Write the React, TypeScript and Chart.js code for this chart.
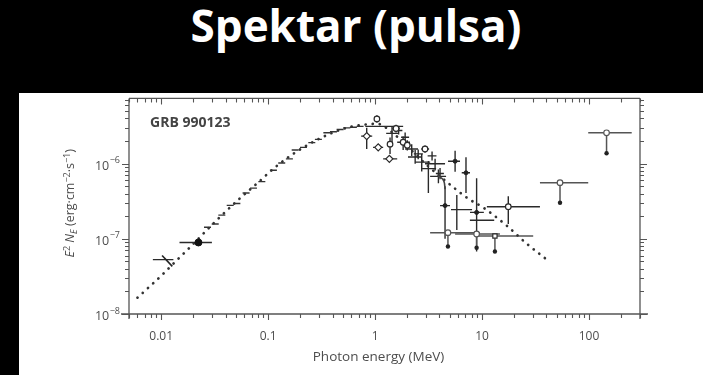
import React, { useEffect, useRef } from 'react';
import { Chart, registerables } from 'chart.js';

Chart.register(...registerables);

// ---------- texts ----------
const SLIDE_TITLE = 'Spektar (pulsa)';
const GRB_LABEL = 'GRB 990123';
const X_TITLE = 'Photon energy (MeV)';

// ---------- axes ----------
const xRange = [0.005, 300];
const yRange = [1e-8, 7.4e-6];
const xMajorTicks = [0.01, 0.1, 1, 10, 100];
const xTickLabels = ['0.01', '0.1', '1', '10', '100'];
const yMajorTicks = [1e-8, 1e-7, 1e-6];
const yTickExponents = ['−8', '−7', '−6'];

// ---------- model (dotted Band fit) ----------
const modelE = [0.006, 0.008, 0.0105, 0.014, 0.0184, 0.024, 0.0334, 0.055, 0.078, 0.12, 0.185, 0.31, 0.54, 0.78, 1.05, 1.4, 2.0, 3.0, 5.0, 7.5, 10.3, 17, 26, 39];
const modelF = [1.65e-8, 2.4e-8, 3.45e-8, 5.2e-8, 7.6e-8, 1.12e-7, 1.8e-7, 3.5e-7, 5.4e-7, 9.3e-7, 1.45e-6, 2.2e-6, 3.0e-6, 3.3e-6, 3.4e-6, 2.7e-6, 1.7e-6, 9.8e-7, 5.3e-7, 3.4e-7, 2.6e-7, 1.5e-7, 8.7e-8, 5.5e-8];

// ---------- BATSE-like small points ----------
const batseE = [0.0271, 0.032, 0.0369, 0.0442, 0.051, 0.0622, 0.0729, 0.0873, 0.112, 0.134, 0.158, 0.179, 0.214, 0.256, 0.295, 0.354, 0.408, 0.471, 0.544, 0.627, 0.724];
const batseF = [1.43e-7, 1.58e-7, 2.07e-7, 2.79e-7, 2.96e-7, 4.07e-7, 4.73e-7, 5.78e-7, 8.18e-7, 1.02e-6, 1.16e-6, 1.52e-6, 1.65e-6, 1.91e-6, 2.11e-6, 2.58e-6, 2.66e-6, 2.85e-6, 3.0e-6, 3.05e-6, 3.14e-6];

// rows: [E, F, Elo, Ehi, Flo, Fhi]
const lowBarPts = [[0.0109, 5.3e-8, 0.00836, 0.013, 5.3e-8, 5.3e-8]];
const lowSlopeE = [0.0102, 0.0127];
const lowSlopeF = [6.0e-8, 4.3e-8];
const bigDotPts = [[0.0223, 8.95e-8, 0.01483, 0.0298, 8.95e-8, 8.95e-8]];
const filledPts = [
  [4.51, 2.77e-7, 4.05, 5.02, 1.0e-7, 5.0e-7],
  [5.6, 1.08e-6, 4.81, 6.22, 7.8e-7, 1.49e-6],
  [7.08, 7.57e-7, 6.46, 7.72, 4.07e-7, 1.22e-6],
  [8.9, 2.25e-7, 7.72, 10.4, 6.8e-8, 6.4e-7],
];
const openCirclePts = [
  [1.04, 3.95e-6, 1.04, 1.04, 3.5e-6, 4.4e-6],
  [1.38, 1.82e-6, 1.38, 1.38, 1.35e-6, 2.24e-6],
  [1.83, 1.93e-6, 1.61, 2.12, 1.52e-6, 2.31e-6],
  [1.57, 2.94e-6, 1.45, 1.7, 2.6e-6, 3.3e-6],
  [2.0, 1.76e-6, 1.85, 2.15, 1.5e-6, 2.05e-6],
  [2.93, 1.57e-6, 2.7, 3.2, 1.4e-6, 1.75e-6],
  [17.6, 2.68e-7, 11.1, 34.8, 1.58e-7, 3.7e-7],
];
const diamondPts = [
  [0.835, 2.33e-6, 0.74, 0.94, 1.57e-6, 3.0e-6],
  [1.07, 1.65e-6, 0.957, 1.19, 1.65e-6, 1.65e-6],
  [1.36, 1.16e-6, 1.19, 1.61, 1.16e-6, 1.16e-6],
];
const crossPts = [
  [1.24, 3.14e-6, 0.81, 1.83, 3.14e-6, 3.14e-6],
  [1.44, 2.53e-6, 1.27, 1.64, 1.93e-6, 3.12e-6],
  [1.66, 2.77e-6, 1.52, 1.8, 2.45e-6, 3.1e-6],
  [1.91, 2.25e-6, 1.75, 2.08, 1.95e-6, 2.6e-6],
  [2.2, 1.57e-6, 1.91, 2.52, 1.27e-6, 1.82e-6],
  [2.37, 1.23e-6, 2.03, 2.69, 1.0e-6, 1.52e-6],
  [2.53, 1.35e-6, 2.3, 2.8, 1.15e-6, 1.55e-6],
  [2.73, 1.05e-6, 2.37, 3.27, 7.86e-7, 1.35e-6],
  [3.15, 8.6e-7, 2.75, 3.72, 4.07e-7, 1.09e-6],
  [3.41, 1.27e-6, 3.1, 3.75, 1.1e-6, 1.45e-6],
  [3.64, 1.0e-6, 2.93, 4.51, 8.1e-7, 1.16e-6],
  [3.91, 6.78e-7, 3.27, 4.61, 5.5e-7, 8.35e-7],
  [4.05, 7.4e-7, 3.7, 4.4, 6.2e-7, 8.8e-7],
  [5.81, 2.45e-7, 5.13, 8.07, 1.31e-7, 3.84e-7],
  [10, 1.77e-7, 7.7, 13, 1.77e-7, 1.77e-7],
];
// short curved segment leading into the 4.5 MeV bar
const hookE = [3.9, 4.25, 4.45, 4.51];
const hookF = [6.8e-7, 6.3e-7, 5.5e-7, 4.6e-7];
// upper limits: [E, F, Elo, Ehi, Ftip]
const upperLimitCircles = [
  [4.8, 1.21e-7, 3.27, 9.57, 7.9e-8],
  [8.9, 1.16e-7, 5.6, 14.7, 7.6e-8],
  [53.6, 5.6e-7, 34.8, 98.4, 3.03e-7],
  [146, 2.58e-6, 98.4, 251, 1.38e-6],
];
const upperLimitSquares = [[13.2, 1.09e-7, 8.9, 30.1, 6.8e-8]];

// ---------- style ----------
const FONT = '"Open Sans", "DejaVu Sans", sans-serif';
const INK = '#2a2a2a';
const AXIS = '#555';
const TEXT = '#4d4d4d';

function decadeTicks(min: number, max: number) {
  const out: number[] = [];
  for (let k = Math.floor(Math.log10(min)); k <= Math.ceil(Math.log10(max)); k++) {
    for (let m = 1; m <= 9; m++) {
      const v = m * Math.pow(10, k);
      if (v >= min * 0.999 && v <= max * 1.001) out.push(v);
    }
  }
  return out;
}

const toXY = (rows: number[][]) => rows.map((r) => ({ x: r[0], y: r[1] }));

const decorPlugin = {
  id: 'spectrumDecor',
  beforeDatasetsDraw(chart: any) {
    const { ctx, scales } = chart;
    const x = scales.x, y = scales.y;
    const ca = chart.chartArea;
    ctx.save();
    ctx.beginPath();
    ctx.rect(ca.left, ca.top, ca.right - ca.left, ca.bottom - ca.top);
    ctx.clip();
    chart.data.datasets.forEach((ds: any) => {
      if (ds.errs) {
        ctx.strokeStyle = INK;
        ctx.lineWidth = 1.4;
        ds.errs.forEach((r: number[]) => {
          const px = x.getPixelForValue(r[0]);
          const py = y.getPixelForValue(r[1]);
          ctx.beginPath();
          if (r[2] !== r[3]) {
            ctx.moveTo(x.getPixelForValue(r[2]), py);
            ctx.lineTo(x.getPixelForValue(r[3]), py);
          }
          if (r[4] !== r[5]) {
            ctx.moveTo(px, y.getPixelForValue(r[4]));
            ctx.lineTo(px, y.getPixelForValue(r[5]));
          }
          ctx.stroke();
        });
      }
      if (ds.limits) {
        ds.limits.forEach((r: number[]) => {
          const px = x.getPixelForValue(r[0]);
          const py = y.getPixelForValue(r[1]);
          const pt = y.getPixelForValue(r[4]);
          ctx.strokeStyle = '#555';
          ctx.lineWidth = 1.5;
          ctx.beginPath();
          ctx.moveTo(x.getPixelForValue(r[2]), py);
          ctx.lineTo(x.getPixelForValue(r[3]), py);
          ctx.moveTo(px, py);
          ctx.lineTo(px, pt);
          ctx.stroke();
          ctx.fillStyle = '#222';
          ctx.beginPath();
          ctx.arc(px, pt, 2.2, 0, Math.PI * 2);
          ctx.fill();
        });
      }
    });
    ctx.restore();
  },
  afterDraw(chart: any) {
    const { ctx, scales } = chart;
    const x = scales.x, y = scales.y;
    const { left, right, top, bottom } = chart.chartArea;
    ctx.save();
    ctx.strokeStyle = AXIS;
    ctx.lineWidth = 1.3;
    // frame
    ctx.beginPath();
    ctx.moveTo(left - 8, bottom); ctx.lineTo(right + 8, bottom);
    ctx.moveTo(left, top); ctx.lineTo(right, top);
    ctx.moveTo(left, top); ctx.lineTo(left, bottom + 5);
    ctx.moveTo(right, top); ctx.lineTo(right, bottom + 5);
    ctx.stroke();
    // ticks
    ctx.lineWidth = 1.1;
    ctx.beginPath();
    decadeTicks(xRange[0], xRange[1]).forEach((v) => {
      const major = xMajorTicks.some((m) => Math.abs(m - v) / m < 1e-6);
      const len = major ? 6 : 4;
      const px = Math.round(x.getPixelForValue(v)) + 0.5;
      ctx.moveTo(px, bottom); ctx.lineTo(px, bottom + len);
      ctx.moveTo(px, top); ctx.lineTo(px, top + len);
    });
    decadeTicks(yRange[0], yRange[1]).forEach((v) => {
      const major = yMajorTicks.some((m) => Math.abs(m - v) / m < 1e-6);
      const len = major ? 7 : 4;
      const py = Math.round(y.getPixelForValue(v)) + 0.5;
      ctx.moveTo(left, py); ctx.lineTo(left - len, py);
      ctx.moveTo(right, py); ctx.lineTo(right + len, py);
    });
    ctx.stroke();

    // x tick labels
    ctx.fillStyle = TEXT;
    ctx.font = `12px ${FONT}`;
    ctx.textAlign = 'center';
    ctx.textBaseline = 'middle';
    xMajorTicks.forEach((v, i) => {
      ctx.fillText(xTickLabels[i], x.getPixelForValue(v), bottom + 22.5);
    });
    // y tick labels 10^n
    yMajorTicks.forEach((v, i) => {
      const py = y.getPixelForValue(v);
      ctx.font = `9px ${FONT}`;
      const supW = ctx.measureText(yTickExponents[i]).width;
      ctx.textAlign = 'right';
      ctx.fillText(yTickExponents[i], left - 9, py - 3);
      ctx.font = `12.5px ${FONT}`;
      ctx.fillText('10', left - 9.5 - supW, py + 2.5);
    });

    // x title
    ctx.font = `13.5px ${FONT}`;
    ctx.textAlign = 'center';
    ctx.fillText(X_TITLE, 359.5, 264);

    // GRB label
    ctx.font = `bold 14px ${FONT}`;
    ctx.textAlign = 'left';
    ctx.fillStyle = '#444';
    ctx.fillText(GRB_LABEL, 131, 30);

    // y title (rotated) with super/subscripts
    const parts: [string, string, string][] = [
      ['E', 'italic 12.5px', 'base'],
      ['2', '9px', 'sup'],
      [' ', '12.5px', 'base'],
      ['N', 'italic 12.5px', 'base'],
      ['E', 'italic 9px', 'sub'],
      [' (erg·cm', '12.5px', 'base'],
      ['−2', '9px', 'sup'],
      ['·s', '12.5px', 'base'],
      ['−1', '9px', 'sup'],
      [')', '12.5px', 'base'],
    ];
    let total = 0;
    const widths = parts.map(([t, f]) => {
      ctx.font = `${f} ${FONT}`;
      const w = ctx.measureText(t).width;
      total += w;
      return w;
    });
    ctx.save();
    ctx.translate(50.7, 110.3);
    ctx.rotate(-Math.PI / 2);
    ctx.fillStyle = TEXT;
    ctx.textAlign = 'left';
    ctx.textBaseline = 'alphabetic';
    let cx = -total / 2;
    parts.forEach(([t, f, pos], i) => {
      ctx.font = `${f} ${FONT}`;
      const dy = pos === 'sup' ? -4.5 : pos === 'sub' ? 3 : 0;
      ctx.fillText(t, cx, 4.5 + dy);
      cx += widths[i];
    });
    ctx.restore();
    ctx.restore();
  },
};

function SpectrumChart() {
  const ref = useRef<HTMLCanvasElement | null>(null);
  useEffect(() => {
    if (!ref.current) return;
    const openStyle = { borderColor: INK, backgroundColor: '#fff', borderWidth: 1.2 };
    const chart = new Chart(ref.current, {
      type: 'scatter',
      data: {
        datasets: [
          {
            label: 'model',
            data: modelE.map((e, i) => ({ x: e, y: modelF[i] })),
            showLine: true,
            borderColor: '#333',
            borderWidth: 2.7,
            borderDash: [0.1, 7],
            borderCapStyle: 'round',
            cubicInterpolationMode: 'monotone',
            pointRadius: 0,
            order: 10,
          } as any,
          {
            label: 'batse',
            data: batseE.map((e, i) => ({ x: e, y: batseF[i] })),
            pointStyle: 'line',
            pointRadius: 3.5,
            borderColor: '#333',
            borderWidth: 1.4,
          } as any,
          {
            label: 'lowBar',
            data: toXY(lowBarPts),
            errs: lowBarPts,
            pointRadius: 0,
          } as any,
          {
            label: 'lowSlope',
            data: lowSlopeE.map((e, i) => ({ x: e, y: lowSlopeF[i] })),
            showLine: true,
            borderColor: '#222',
            borderWidth: 1.6,
            pointRadius: 0,
          } as any,
          {
            label: 'hook',
            data: hookE.map((e, i) => ({ x: e, y: hookF[i] })),
            showLine: true,
            cubicInterpolationMode: 'monotone',
            borderColor: '#444',
            borderWidth: 1.6,
            pointRadius: 0,
          } as any,
          {
            label: 'bigDot',
            data: toXY(bigDotPts),
            errs: bigDotPts,
            pointRadius: 3.5,
            backgroundColor: '#111',
            borderColor: '#111',
          } as any,
          {
            label: 'filled',
            data: toXY(filledPts),
            errs: filledPts,
            pointRadius: 2,
            backgroundColor: '#222',
            borderColor: '#222',
          } as any,
          {
            label: 'cross',
            data: toXY(crossPts),
            errs: crossPts,
            pointRadius: 0,
          } as any,
          {
            label: 'openCircle',
            data: toXY(openCirclePts),
            errs: openCirclePts,
            pointStyle: 'circle',
            pointRadius: 2.8,
            ...openStyle,
          } as any,
          {
            label: 'diamond',
            data: toXY(diamondPts),
            errs: diamondPts,
            pointStyle: 'rectRot',
            pointRadius: 3.5,
            ...openStyle,
          } as any,
          {
            label: 'ulCircle',
            data: toXY(upperLimitCircles),
            limits: upperLimitCircles,
            pointStyle: 'circle',
            pointRadius: 2.8,
            ...openStyle,
            borderColor: '#555',
          } as any,
          {
            label: 'ulSquare',
            data: toXY(upperLimitSquares),
            limits: upperLimitSquares,
            pointStyle: 'rect',
            pointRadius: 3,
            ...openStyle,
          } as any,
        ],
      },
      options: {
        animation: false,
        responsive: false,
        maintainAspectRatio: false,
        events: [],
        layout: { padding: { left: 0, top: 0, right: 63, bottom: 0 } },
        plugins: { legend: { display: false }, tooltip: { enabled: false }, title: { display: false } },
        scales: {
          x: {
            type: 'logarithmic',
            min: xRange[0],
            max: xRange[1],
            grid: { display: false, drawTicks: false },
            border: { display: false },
            ticks: { display: false },
            afterFit: (s: any) => { s.height = 61; },
          },
          y: {
            type: 'logarithmic',
            min: yRange[0],
            max: yRange[1],
            grid: { display: false, drawTicks: false },
            border: { display: false },
            ticks: { display: false },
            afterFit: (s: any) => { s.width = 110; },
          },
        },
      } as any,
      plugins: [decorPlugin],
    });
    return () => chart.destroy();
  }, []);
  return <canvas ref={ref} width={684} height={282} style={{ display: 'block' }} />;
}

export default function App() {
  return (
    <div style={{ position: 'fixed', left: 0, top: 0, width: 703, height: 375, background: '#000', overflow: 'hidden' }}>
      <div
        style={{
          position: 'absolute',
          left: 4.5,
          top: 3,
          width: 703,
          textAlign: 'center',
          color: '#fff',
          fontFamily: '"Open Sans", sans-serif',
          fontWeight: 700,
          fontSize: 44,
          lineHeight: '44px',
          whiteSpace: 'nowrap',
        }}
      >
        {SLIDE_TITLE}
      </div>
      <div style={{ position: 'absolute', left: 19, top: 93, width: 684, height: 282, background: '#fff' }}>
        <SpectrumChart />
      </div>
    </div>
  );
}
